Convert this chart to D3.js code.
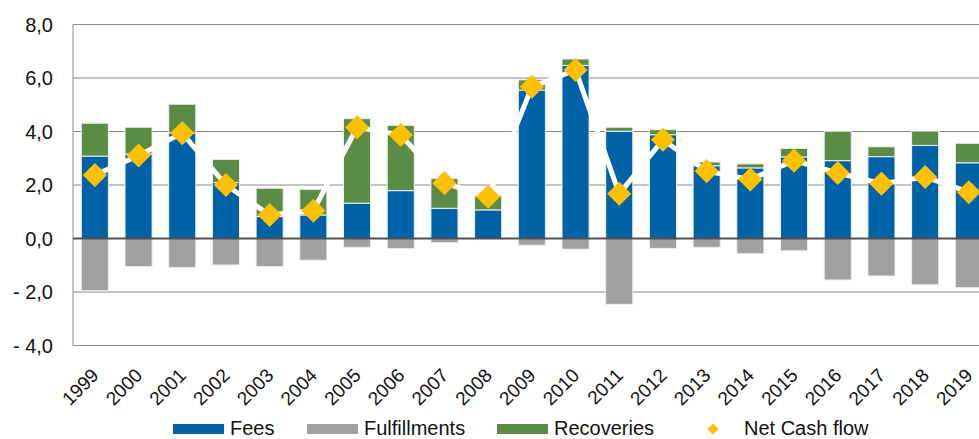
<!DOCTYPE html>
<html>
<head>
<meta charset="utf-8">
<script src="https://cdn.jsdelivr.net/npm/d3@7"></script>
<style>
	body { margin: 0; background: #fff; }
	text { font-family: "Liberation Sans", Arial, Helvetica, sans-serif; fill: #111; }
</style>
</head>
<body>
<script>
//data (billions)
var years = ["1999","2000","2001","2002","2003","2004","2005","2006","2007","2008","2009",
	"2010","2011","2012","2013","2014","2015","2016","2017","2018","2019"];
var fees = [3.08, 3.16, 3.95, 2.09, 0.82, 0.88, 1.32, 1.79, 1.13, 1.07, 5.55,
	6.47, 4.01, 3.88, 2.72, 2.64, 3.05, 2.91, 3.06, 3.48, 2.83];
var recoveries = [1.23, 1.00, 1.07, 0.87, 1.06, 0.96, 3.16, 2.44, 1.11, 0.52, 0.38,
	0.24, 0.15, 0.19, 0.14, 0.15, 0.32, 1.10, 0.37, 0.54, 0.73];
var fulfillments = [-1.95, -1.05, -1.08, -0.99, -1.05, -0.81, -0.33, -0.38, -0.16, 0.00, -0.25,
	-0.40, -2.46, -0.37, -0.33, -0.57, -0.46, -1.55, -1.40, -1.73, -1.84];
var netCash = [2.37, 3.10, 3.94, 2.00, 0.88, 1.04, 4.16, 3.87, 2.07, 1.56, 5.67,
	6.30, 1.67, 3.69, 2.52, 2.21, 2.91, 2.45, 2.05, 2.30, 1.73];
var yTicks = [-4, -2, 0, 2, 4, 6, 8];

var colors = {fees: "#0062a6", fulfill: "#a0a0a0", recov: "#5b8c46", net: "#ffc000"};

var width = 979, height = 439;
var plotLeft = 73, plotTop = 24.5, plotBottom = 345.5;
var step = 43.7;

var svg = d3.select("body").append("svg")
	.attr("width", width)
	.attr("height", height);

var x = d3.scaleBand()
	.domain(years)
	.range([plotLeft, plotLeft + step * years.length])
	.paddingInner(0.38)
	.paddingOuter(0.19);

var y = d3.scaleLinear()
	.domain([-4, 8])
	.range([plotBottom, plotTop]);

var fmt = function(v){
	var s = Math.abs(v).toFixed(1).replace(".", ",");
	return v < 0 ? "- " + s : s;
};

//gridlines
svg.append("g")
	.selectAll("line")
	.data(yTicks.filter(function(d){ return d !== 0; }))
	.enter()
	.append("line")
	.attr("x1", plotLeft).attr("x2", width)
	.attr("y1", function(d){ return y(d); })
	.attr("y2", function(d){ return y(d); })
	.attr("stroke", "#8a8a8a")
	.attr("stroke-width", 1);

//left frame line
svg.append("line")
	.attr("x1", plotLeft).attr("x2", plotLeft)
	.attr("y1", y(8)).attr("y2", y(-4))
	.attr("stroke", "#8a8a8a");

//y labels
svg.append("g")
	.selectAll("text")
	.data(yTicks)
	.enter()
	.append("text")
	.attr("x", 53)
	.attr("y", function(d){ return y(d); })
	.attr("dy", "0.36em")
	.attr("text-anchor", "end")
	.style("font-size", "20px")
	.text(fmt);

var idx = d3.range(years.length);

//fees (bottom of positive stack)
svg.append("g")
	.selectAll("rect")
	.data(idx)
	.enter()
	.append("rect")
	.attr("x", function(i){ return x(years[i]); })
	.attr("width", x.bandwidth())
	.attr("y", function(i){ return y(fees[i]); })
	.attr("height", function(i){ return y(0) - y(fees[i]); })
	.attr("fill", colors.fees)
	.attr("stroke", "#eef2f5")
	.attr("stroke-width", 1);

//recoveries on top of fees
svg.append("g")
	.selectAll("rect")
	.data(idx)
	.enter()
	.append("rect")
	.attr("x", function(i){ return x(years[i]); })
	.attr("width", x.bandwidth())
	.attr("y", function(i){ return y(fees[i] + recoveries[i]); })
	.attr("height", function(i){ return y(fees[i]) - y(fees[i] + recoveries[i]); })
	.attr("fill", colors.recov)
	.attr("stroke", "#eef2f5")
	.attr("stroke-width", 1);

//fulfillments below zero
svg.append("g")
	.selectAll("rect")
	.data(idx.filter(function(i){ return fulfillments[i] < 0; }))
	.enter()
	.append("rect")
	.attr("x", function(i){ return x(years[i]); })
	.attr("width", x.bandwidth())
	.attr("y", y(0))
	.attr("height", function(i){ return y(fulfillments[i]) - y(0); })
	.attr("fill", colors.fulfill)
	.attr("stroke", "#eeeeee")
	.attr("stroke-width", 1);

//zero line
svg.append("line")
	.attr("x1", plotLeft).attr("x2", width)
	.attr("y1", y(0)).attr("y2", y(0))
	.attr("stroke", "#505050")
	.attr("stroke-width", 2);

//net cash flow line
var line = d3.line()
	.x(function(i){ return x(years[i]) + x.bandwidth() / 2; })
	.y(function(i){ return y(netCash[i]); });

svg.append("path")
	.datum(idx)
	.attr("d", line)
	.attr("fill", "none")
	.attr("stroke", "#fff")
	.attr("stroke-width", 5);

var diamond = d3.symbol().type(d3.symbolSquare).size(290);
svg.append("g")
	.selectAll("path")
	.data(idx)
	.enter()
	.append("path")
	.attr("d", diamond)
	.attr("transform", function(i){
		return "translate(" + (x(years[i]) + x.bandwidth() / 2) + "," + y(netCash[i]) + ") rotate(45)";
	})
	.attr("fill", colors.net);

//x labels
svg.append("g")
	.selectAll("text")
	.data(years)
	.enter()
	.append("text")
	.attr("text-anchor", "end")
	.attr("transform", function(d){
		return "translate(" + (x(d) + x.bandwidth() / 2 + 5) + "," + (plotBottom + 31) + ") rotate(-45)";
	})
	.style("font-size", "19px")
	.text(function(d){ return d; });

//legend
var legend = [
	{name: "Fees", color: colors.fees, x: 173, type: "rect"},
	{name: "Fulfillments", color: colors.fulfill, x: 307, type: "rect"},
	{name: "Recoveries", color: colors.recov, x: 497, type: "rect"},
	{name: "Net Cash flow", color: colors.net, x: 707, type: "diamond"}
];

var items = svg.append("g")
	.selectAll("g")
	.data(legend)
	.enter()
	.append("g")
	.attr("transform", function(d){ return "translate(" + d.x + ",0)"; });

items.filter(function(d){ return d.type === "rect"; })
	.append("rect")
	.attr("y", 424)
	.attr("width", 51)
	.attr("height", 10)
	.attr("fill", function(d){ return d.color; });

items.filter(function(d){ return d.type === "diamond"; })
	.append("path")
	.attr("d", d3.symbol().type(d3.symbolSquare).size(60))
	.attr("transform", "translate(6,429) rotate(45)")
	.attr("fill", function(d){ return d.color; });

items.append("text")
	.attr("x", function(d){ return d.type === "rect" ? 57 : 37; })
	.attr("y", 435)
	.style("font-size", "20px")
	.text(function(d){ return d.name; });
</script>
</body>
</html>
